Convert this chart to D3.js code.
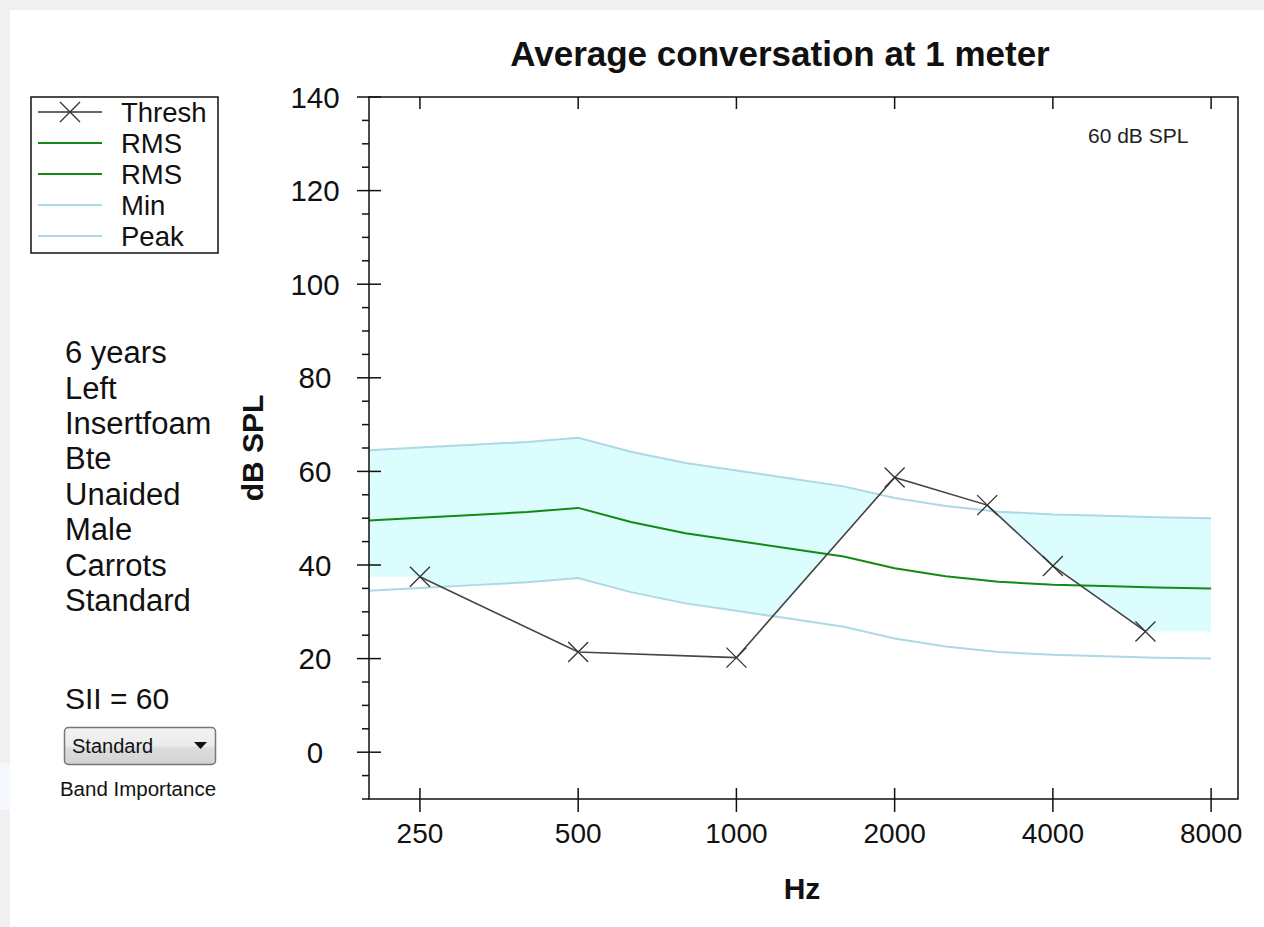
<!DOCTYPE html>
<html>
<head>
<meta charset="utf-8">
<script src="https://cdn.jsdelivr.net/npm/d3@7"></script>
<style>
  body { margin: 0; background: #f0f0f0; }
  svg { display: block; font-family: "Liberation Sans", Arial, sans-serif; }
</style>
</head>
<body>
<svg width="1264" height="927"></svg>
<script>
// band frequencies (1/3 octave) and speech levels
const bandFreqs = [200, 250, 315, 400, 500, 630, 800, 1000, 1250, 1600, 2000, 2500, 3150, 4000, 5000, 6300, 8000];
const rmsVals = [49.5, 50.1, 50.7, 51.3, 52.2, 49.2, 46.8, 45.2, 43.6, 41.8, 39.3, 37.6, 36.4, 35.8, 35.5, 35.2, 35.0];
const peakVals = [64.5, 65.1, 65.7, 66.3, 67.2, 64.2, 61.8, 60.2, 58.6, 56.8, 54.3, 52.6, 51.4, 50.8, 50.5, 50.2, 50.0];
const minVals = [34.5, 35.1, 35.7, 36.3, 37.2, 34.2, 31.8, 30.2, 28.6, 26.8, 24.3, 22.6, 21.4, 20.8, 20.5, 20.2, 20.0];

// audiogram thresholds
const threshFreqs = [250, 500, 1000, 2000, 3000, 4000, 6000];
const threshVals = [37.5, 21.4, 20.2, 58.7, 52.8, 39.8, 25.8];

// tick labels
const xTicks = [250, 500, 1000, 2000, 4000, 8000];
const yTicks = [0, 20, 40, 60, 80, 100, 120, 140];

const legendItems = ["Thresh", "RMS", "RMS", "Min", "Peak"];
const infoLines = ["6 years", "Left", "Insertfoam", "Bte", "Unaided", "Male", "Carrots", "Standard"];

let svg = d3.select("svg");

// background panel
svg.append("rect").attr("x", 10).attr("y", 10).attr("width", 1254).attr("height", 917).attr("fill", "#fff");
svg.append("rect").attr("x", 0).attr("y", 763).attr("width", 10).attr("height", 47).attr("fill", "#f5f8fc");

// scales
const x = d3.scaleLog().domain([200, 9000]).range([369, 1238]);
const y = d3.scaleLinear().domain([-10, 140]).range([799, 97]);

// piecewise interpolators in pixel space
const peakAt = d3.scaleLinear().domain(bandFreqs.map(x)).range(peakVals);
const minAt = d3.scaleLinear().domain(bandFreqs.map(x)).range(minVals);
const threshAt = d3.scaleLinear().domain(threshFreqs.map(x)).range(threshVals).clamp(true);

// audible part of speech area: between max(min, thresh) and peak
let fillPts = d3.range(Math.round(x(200)), Math.round(x(8000)) + 1).map(px => ({
  px: px,
  lo: Math.max(minAt(px), threshAt(px)),
  hi: peakAt(px)
}));

svg.append("path")
  .datum(fillPts)
  .attr("fill", "#dcfdfd")
  .attr("d", d3.area()
    .defined(d => d.lo < d.hi)
    .x(d => d.px)
    .y0(d => y(d.lo))
    .y1(d => y(d.hi)));

const bandLine = vals => d3.line()
  .x((d, i) => x(bandFreqs[i]))
  .y(d => y(d))(vals);

svg.append("path").attr("d", bandLine(minVals)).attr("fill", "none").attr("stroke", "#add8e6").attr("stroke-width", 2);
svg.append("path").attr("d", bandLine(peakVals)).attr("fill", "none").attr("stroke", "#add8e6").attr("stroke-width", 2);
svg.append("path").attr("d", bandLine(rmsVals)).attr("fill", "none").attr("stroke", "#138a13").attr("stroke-width", 2);

// threshold line + X markers
svg.append("path")
  .datum(threshVals)
  .attr("fill", "none")
  .attr("stroke", "#444")
  .attr("stroke-width", 1.6)
  .attr("d", d3.line().x((d, i) => x(threshFreqs[i])).y(d => y(d)));

function cross(g, cx, cy) {
  g.append("path")
    .attr("d", `M${cx - 10},${cy - 10}L${cx + 10},${cy + 10}M${cx - 10},${cy + 10}L${cx + 10},${cy - 10}`)
    .attr("stroke", "#333")
    .attr("stroke-width", 1.3)
    .attr("fill", "none");
}
threshVals.forEach((v, i) => cross(svg, x(threshFreqs[i]), y(v)));

// frame
const axisColor = "#111";
svg.append("path")
  .attr("d", `M369,97H1238V799H369Z`)
  .attr("fill", "none").attr("stroke", axisColor).attr("stroke-width", 1.5);

// y ticks
d3.range(-10, 141, 5).forEach(v => {
  const major = v % 20 === 0 && v >= 0;
  svg.append("line")
    .attr("x1", major ? 357 : 362).attr("x2", major ? 381 : 369)
    .attr("y1", y(v)).attr("y2", y(v))
    .attr("stroke", axisColor).attr("stroke-width", 1.5);
});
svg.selectAll(".ylab").data(yTicks).enter().append("text")
  .attr("x", 315).attr("y", d => y(d))
  .attr("dy", "0.36em").attr("text-anchor", "middle")
  .attr("font-size", 29.5).attr("fill", "#111")
  .text(d => d);

// x ticks (bottom crossing, top inward)
xTicks.forEach(f => {
  svg.append("line").attr("x1", x(f)).attr("x2", x(f)).attr("y1", 788).attr("y2", 812)
    .attr("stroke", axisColor).attr("stroke-width", 1.5);
  svg.append("line").attr("x1", x(f)).attr("x2", x(f)).attr("y1", 97).attr("y2", 109)
    .attr("stroke", axisColor).attr("stroke-width", 1.5);
});
svg.selectAll(".xlab").data(xTicks).enter().append("text")
  .attr("x", d => x(d)).attr("y", 843)
  .attr("text-anchor", "middle")
  .attr("font-size", 28).attr("fill", "#111")
  .text(d => d);

// titles
svg.append("text").attr("x", 780).attr("y", 66).attr("text-anchor", "middle")
  .attr("font-size", 35).attr("font-weight", "bold").attr("fill", "#111")
  .text("Average conversation at 1 meter");
svg.append("text").attr("x", 802).attr("y", 899).attr("text-anchor", "middle")
  .attr("font-size", 30).attr("font-weight", "bold").attr("fill", "#111")
  .text("Hz");
svg.append("text").attr("transform", "translate(263,448) rotate(-90)").attr("text-anchor", "middle")
  .attr("font-size", 30).attr("font-weight", "bold").attr("fill", "#111")
  .text("dB SPL");
svg.append("text").attr("x", 1088).attr("y", 143)
  .attr("font-size", 21).attr("fill", "#222")
  .text("60 dB SPL");

// legend
let legend = svg.append("g");
legend.append("rect").attr("x", 31).attr("y", 97).attr("width", 187).attr("height", 156)
  .attr("fill", "#fff").attr("stroke", "#111").attr("stroke-width", 1.5);
const legendColors = ["#333", "#138a13", "#138a13", "#add8e6", "#add8e6"];
legendItems.forEach((name, i) => {
  const ly = 112 + i * 31;
  legend.append("line").attr("x1", 38).attr("x2", 102).attr("y1", ly).attr("y2", ly)
    .attr("stroke", legendColors[i]).attr("stroke-width", i === 0 ? 1.6 : 2);
  if (i === 0) cross(legend, 70, ly);
  legend.append("text").attr("x", 121).attr("y", ly).attr("dy", "0.36em")
    .attr("font-size", 27.5).attr("fill", "#111").text(name);
});

// info text
svg.selectAll(".info").data(infoLines).enter().append("text")
  .attr("x", 65).attr("y", (d, i) => 352 + i * 35.4).attr("dy", "0.36em")
  .attr("font-size", 31).attr("fill", "#111")
  .text(d => d);
svg.append("text").attr("x", 65).attr("y", 698).attr("dy", "0.36em")
  .attr("font-size", 30).attr("fill", "#111").text("SII = 60");

// dropdown
const grad = svg.append("defs").append("linearGradient").attr("id", "dd").attr("x1", 0).attr("y1", 0).attr("x2", 0).attr("y2", 1);
grad.append("stop").attr("offset", "0%").attr("stop-color", "#f3f3f3");
grad.append("stop").attr("offset", "50%").attr("stop-color", "#ebebeb");
grad.append("stop").attr("offset", "55%").attr("stop-color", "#dddddd");
grad.append("stop").attr("offset", "100%").attr("stop-color", "#d2d2d2");
svg.append("rect").attr("x", 64.5).attr("y", 727.5).attr("width", 151).attr("height", 37).attr("rx", 4)
  .attr("fill", "url(#dd)").attr("stroke", "#777").attr("stroke-width", 1.5);
svg.append("text").attr("x", 72).attr("y", 746).attr("dy", "0.36em")
  .attr("font-size", 20).attr("fill", "#111").text("Standard");
svg.append("path").attr("d", "M194,742H207L200.5,749Z").attr("fill", "#111");
svg.append("text").attr("x", 138).attr("y", 789).attr("dy", "0.36em").attr("text-anchor", "middle")
  .attr("font-size", 20.5).attr("fill", "#111").text("Band Importance");
</script>
</body>
</html>
